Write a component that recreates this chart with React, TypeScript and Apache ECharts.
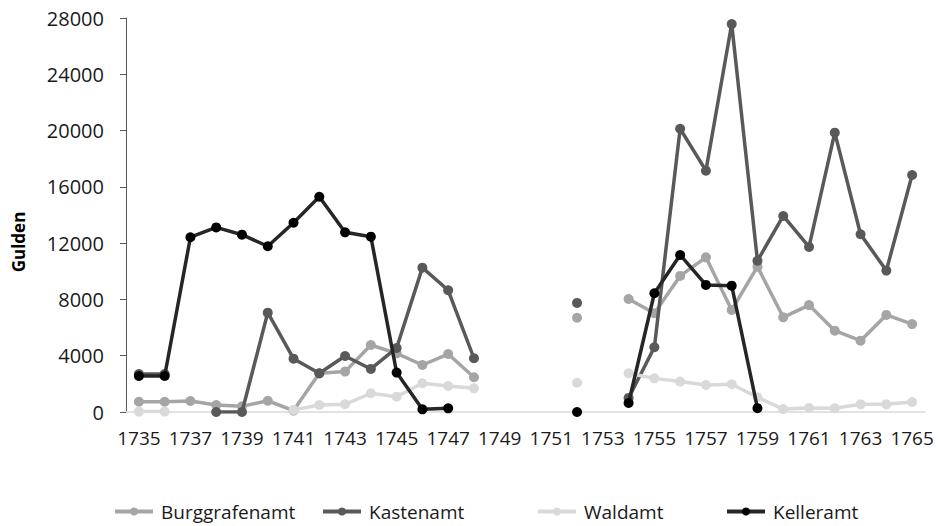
import React, { useEffect, useRef } from "react";
import * as echarts from "echarts";

const years: string[] = [];
for (let y = 1735; y <= 1765; y++) years.push(String(y));

const burggrafenamt = [730, 730, 780, 500, 400, 800, 100, 2750, 2870, 4760, 4170, 3340, 4120, 2470, null, null, null, 6700, null, 8030, 7020, 9670, 10990, 7250, 10330, 6730, 7600, 5780, 5070, 6900, 6250];
const kastenamt = [2700, 2700, null, 0, 0, 7060, 3790, 2750, 3980, 3060, 4550, 10260, 8650, 3820, null, null, null, 7750, null, 1000, 4600, 20130, 17150, 27570, 10750, 13930, 11730, 19850, 12630, 10050, 16840];
const waldamt = [30, 30, null, null, null, null, 150, 500, 550, 1330, 1090, 2040, 1850, 1680, null, null, null, 2080, null, 2750, 2390, 2160, 1920, 1970, 1050, 210, 290, 260, 545, 545, 710];
const kelleramt = [2560, 2560, 12420, 13120, 12600, 11780, 13450, 15300, 12770, 12460, 2800, 190, 260, null, null, null, null, 0, null, 640, 8440, 11160, 9030, 8980, 270, null, null, null, null, null, null];

const seriesNames = ["Burggrafenamt", "Kastenamt", "Waldamt", "Kelleramt"];
const seriesColors = ["#a5a5a5", "#595959", "#d9d9d9", "#262626"];
const seriesData = [burggrafenamt, kastenamt, waldamt, kelleramt];
const yAxisTitle = "Gulden";

const FONT = "Open Sans";
const legendLefts = [113, 321, 536, 725];

export default function App() {
  const ref = useRef<HTMLDivElement>(null);
  useEffect(() => {
    if (!ref.current) return;
    document.body.style.margin = "0";
    const chart = echarts.init(ref.current, null, { renderer: "svg" });
    chart.setOption({
      animation: false,
      backgroundColor: "#ffffff",
      textStyle: { fontFamily: FONT },
      grid: { left: 126, right: 13, top: 18, bottom: 114, containLabel: false },
      graphic: [
        {
          type: "text",
          x: 18,
          y: 242,
          rotation: Math.PI / 2,
          style: {
            text: yAxisTitle,
            fontFamily: FONT,
            fontSize: 17,
            fontWeight: "bold",
            fill: "#000000",
            textAlign: "center",
            textVerticalAlign: "middle",
          },
        },
      ],
      legend: seriesNames.map((n, i) => ({
        top: 502,
        left: legendLefts[i],
        itemWidth: 38,
        itemHeight: 10,
        padding: 0,
        lineStyle: { width: 4 },
        textStyle: { fontFamily: FONT, fontSize: 19, color: "#1a1a1a", padding: [0, 0, 0, 3] },
        data: [n],
      })),
      xAxis: {
        type: "category",
        data: years,
        boundaryGap: true,
        axisLine: { show: true, lineStyle: { color: "#d9d9d9", width: 1.5 } },
        axisTick: { show: false },
        axisLabel: { interval: 1, fontFamily: FONT, fontSize: 19, color: "#1a1a1a", margin: 16 },
        splitLine: { show: false },
      },
      yAxis: {
        type: "value",
        min: 0,
        max: 28000,
        interval: 4000,
        axisLine: { show: true, lineStyle: { color: "#595959", width: 1 } },
        axisTick: { show: true, inside: false, length: 6, lineStyle: { color: "#595959" } },
        axisLabel: {
          fontFamily: FONT,
          fontSize: 20,
          color: "#1a1a1a",
          margin: 22,
          formatter: (v: number) => String(v),
        },
        splitLine: { show: false },
      },
      series: seriesData.map((d, i) => ({
        name: seriesNames[i],
        type: "line",
        data: d,
        connectNulls: false,
        showSymbol: true,
        showAllSymbol: true,
        symbol: "circle",
        symbolSize: 10,
        lineStyle: { color: seriesColors[i], width: 3.5 },
        itemStyle: { color: i === 3 ? "#000000" : seriesColors[i], borderWidth: 0 },
        emphasis: { disabled: true },
        z: 2 + i,
      })),
    });
    return () => chart.dispose();
  }, []);
  return <div ref={ref} style={{ width: 938, height: 526 }} />;
}
